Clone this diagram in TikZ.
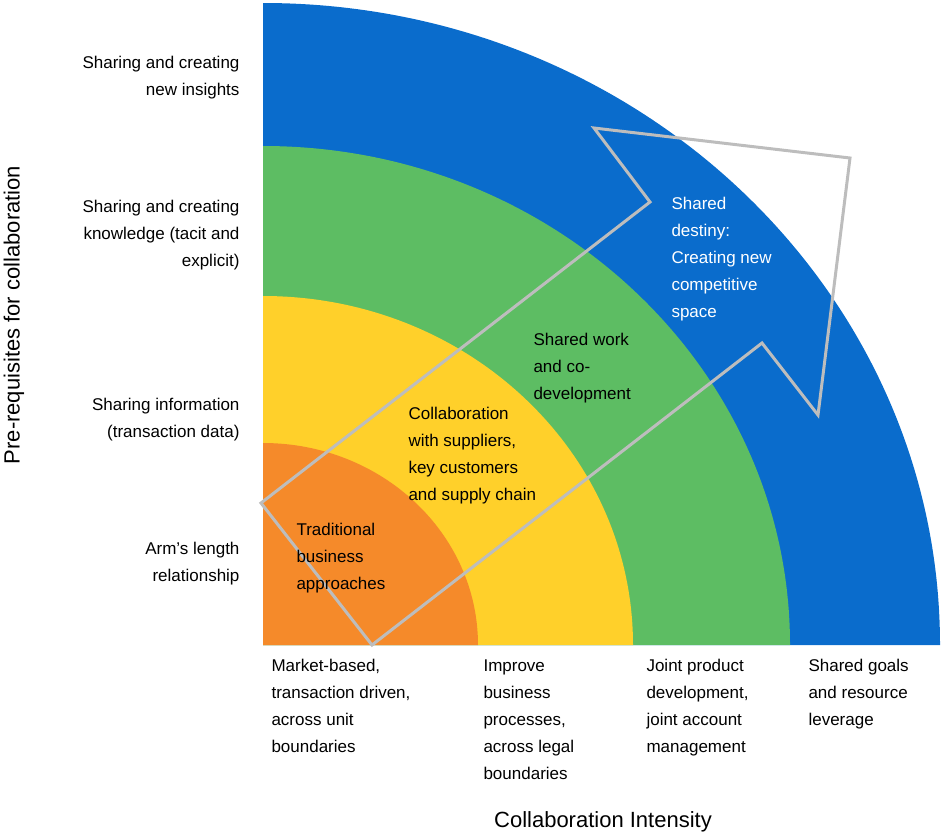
\documentclass[tikz,border=0pt]{standalone}
\usepackage{fontspec}
\setmainfont{Liberation Sans}
\usetikzlibrary{positioning}
\definecolor{ringblue}{HTML}{0A6CCC}
\definecolor{ringgreen}{HTML}{5DBD63}
\definecolor{ringyellow}{HTML}{FFD02A}
\definecolor{ringorange}{HTML}{F58A2A}
\definecolor{arrowgray}{HTML}{BDBDBD}
\tikzset{
	lefttext/.style={align=right,anchor=east,font=\fontsize{17}{27}\selectfont},
	bottomtext/.style={align=left,anchor=north west,font=\fontsize{17}{27}\selectfont},
	ringtext/.style={align=left,anchor=north west,font=\fontsize{17}{27}\selectfont},
}
\begin{document}
\begin{tikzpicture}[x=1pt,y=-1pt]
	\useasboundingbox (0,0) rectangle (942,839);
	% rings
	\fill[ringblue] (263,645) -- (940,645) arc[start angle=0,end angle=90,x radius=677,y radius=-642] -- cycle;
	\fill[ringgreen] (263,645) -- (790,645) arc[start angle=0,end angle=90,x radius=527,y radius=-499] -- cycle;
	\fill[ringyellow] (263,645) -- (633,645) arc[start angle=0,end angle=90,x radius=370,y radius=-349] -- cycle;
	\fill[ringorange] (263,645) -- (478,645) arc[start angle=0,end angle=90,x radius=215,y radius=-202] -- cycle;
	% arrow outline
	\draw[arrowgray,line width=3pt,line join=miter]
		(261,503) -- (650,202) -- (594,128) -- (850,158) -- (818,415) -- (762,343) -- (372,645) -- cycle;
	% left labels
	\node[lefttext] (l4) at (243,78) {Sharing and creating\\new insights};
	\node[lefttext] (l3) at (243,235) {Sharing and creating\\knowledge (tacit and\\explicit)};
	\node[lefttext] (l2) at (243,420) {Sharing information\\(transaction data)};
	\node[lefttext] (l1) at (243,564) {Arm’s length\\relationship};
	% bottom labels
	\node[bottomtext] (b1) at (268,656) {Market-based,\\transaction driven,\\across unit\\boundaries};
	\node[bottomtext] (b2) at (480,656) {Improve\\business\\processes,\\across legal\\boundaries};
	\node[bottomtext] (b3) at (643,656) {Joint product\\development,\\joint account\\management};
	\node[bottomtext] (b4) at (805,656) {Shared goals\\and resource\\leverage};
	% ring labels
	\node[ringtext] (r1) at (293,520) {Traditional\\business\\approaches};
	\node[ringtext] (r2) at (405,404) {Collaboration\\with suppliers,\\key customers\\and supply chain};
	\node[ringtext] (r3) at (530,330) {Shared work\\and co-\\development};
	\node[ringtext,text=white] (r4) at (668,194) {Shared\\destiny:\\Creating new\\competitive\\space};
	% axis titles
	\node[font=\fontsize{22}{26}\selectfont] (xt) at (603,822) {Collaboration Intensity};
	\node[font=\fontsize{22}{26}\selectfont,rotate=90] (yt) at (14,315) {Pre-requisites for collaboration};
\end{tikzpicture}
\end{document}
